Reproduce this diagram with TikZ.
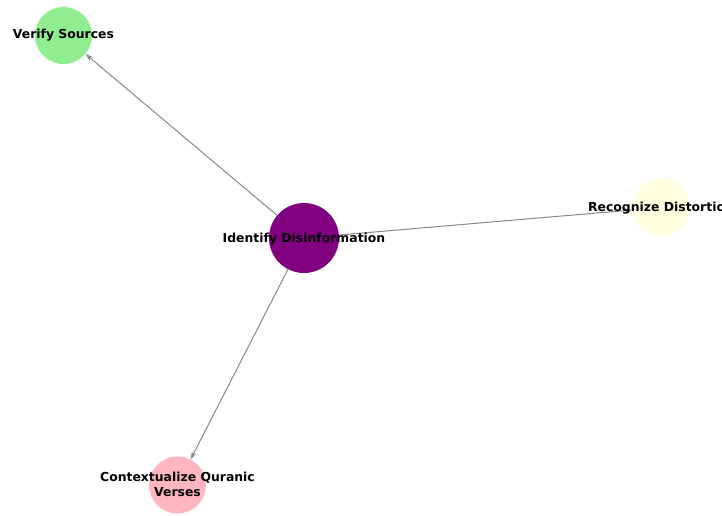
\documentclass[tikz,border=0pt]{standalone}
\usepackage{fontspec}
\setmainfont{DejaVu Sans}
\usetikzlibrary{arrows.meta}
\definecolor{nodepurple}{HTML}{800080}
\definecolor{nodegreen}{HTML}{90EE90}
\definecolor{nodeyellow}{HTML}{FFFFE0}
\definecolor{nodepink}{HTML}{FFB6C1}
\definecolor{edgegray}{HTML}{888888}
\tikzset{
  bubble/.style={circle, inner sep=0pt},
  lbl/.style={font=\fontsize{12.4}{15}\selectfont\bfseries, text=black, align=center, inner sep=0pt},
  edge/.style={draw=edgegray, line width=1pt, -{Stealth[length=8pt,width=5pt]}}
}
\begin{document}
\begin{tikzpicture}[x=1pt,y=-1pt]
\useasboundingbox[fill=white] (0,0) rectangle (722,515);
\node[bubble, fill=nodepurple, minimum size=70pt] (id) at (304,238) {};
\node[bubble, fill=nodegreen, minimum size=57pt] (vs) at (63.5,35.5) {};
\node[bubble, fill=nodeyellow, minimum size=58pt] (rd) at (661,207.5) {};
\node[bubble, fill=nodepink, minimum size=57pt] (cq) at (177.5,485) {};
\draw[edge] (id) -- (vs);
\draw[edge] (id) -- (rd);
\draw[edge] (id) -- (cq);
\node[lbl] (idl) at (304,239.5) {Identify Disinformation};
\node[lbl] (vsl) at (63.5,35.5) {Verify Sources};
\node[lbl] (rdl) at (661,208) {Recognize Distortion};
\node[lbl] (cql) at (177.5,484.5) {Contextualize Quranic\\Verses};
\end{tikzpicture}
\end{document}
